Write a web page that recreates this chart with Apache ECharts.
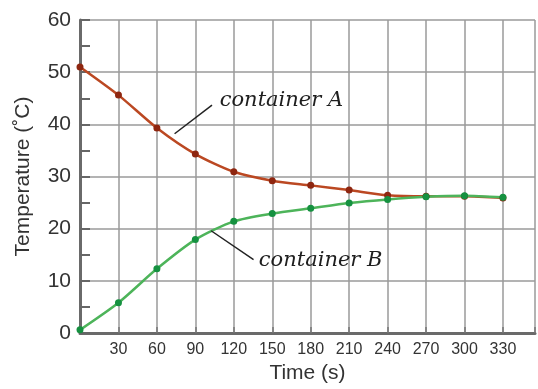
<!DOCTYPE html>
<html>
<head>
<meta charset="utf-8">
<script src="https://cdn.jsdelivr.net/npm/echarts@6/dist/echarts.min.js"></script>
<style>
  html, body { margin: 0; padding: 0; background: #fff; }
  #chart { width: 538px; height: 389px; }
</style>
</head>
<body>
<div id="chart"></div>
<script>
// time in seconds
var times = [0, 30, 60, 90, 120, 150, 180, 210, 240, 270, 300, 330]
// temperatures (°C)
var containerA = [51.0, 45.6, 39.3, 34.3, 30.9, 29.2, 28.3, 27.4, 26.4, 26.2, 26.2, 25.9]
var containerB = [0.6, 5.8, 12.3, 17.9, 21.4, 22.9, 23.9, 24.9, 25.6, 26.1, 26.3, 26.0]
var xTicks = [30, 60, 90, 120, 150, 180, 210, 240, 270, 300, 330]

// leader lines and labels, in data units
var leaderA = [[73.8, 38.2], [103, 43.7]]
var labelA = [109, 44.6]
var leaderB = [[102.3, 19.6], [135.4, 14.05]]
var labelB = [139.5, 13.9]

function pairs(xs, ys) {
    return xs.map(function(x, i) { return [x, ys[i]] })
}

var leaderStyle = { color: '#222', width: 1.5, type: 'solid' }
var noteLabel = {
    show: true,
    position: 'right',
    distance: 0,
    fontFamily: 'DejaVu Serif',
    fontStyle: 'italic',
    fontSize: 21,
    color: '#1e1e1e'
}

var chart = echarts.init(document.getElementById('chart'))
var options = {
    animation: false,
    grid: { left: 80, right: -3, top: 20, bottom: 53 },
    xAxis: {
        type: 'value',
        min: 0,
        max: 355,
        interval: 30,
        name: 'Time (s)',
        nameLocation: 'middle',
        nameGap: 30,
        nameTextStyle: { fontFamily: 'Liberation Sans', fontSize: 21, color: '#333' },
        axisLine: { lineStyle: { color: '#6a6a6a', width: 3 } },
        axisTick: { show: true, inside: true, length: 6, lineStyle: { color: '#777', width: 1.5 } },
        axisLabel: {
            fontFamily: 'Liberation Sans',
            fontSize: 16,
            color: '#333',
            margin: 9,
            formatter: function(v) { return xTicks.indexOf(v) >= 0 ? String(v) : '' }
        },
        splitLine: { show: true, lineStyle: { color: '#9a9a9a', width: 1.5 } }
    },
    yAxis: {
        type: 'value',
        min: 0,
        max: 60,
        interval: 10,
        name: 'Temperature (˚C)',
        nameLocation: 'middle',
        nameGap: 46,
        nameTextStyle: { fontFamily: 'Liberation Sans', fontSize: 21, color: '#333' },
        axisLine: { show: true, lineStyle: { color: '#6a6a6a', width: 3 } },
        axisTick: { show: true, inside: true, length: 10, lineStyle: { color: '#666', width: 2 } },
        minorTick: { show: true, splitNumber: 2, length: 10, lineStyle: { color: '#666', width: 2 } },
        axisLabel: { fontFamily: 'Liberation Sans', fontSize: 21, color: '#333', margin: 9 },
        splitLine: { show: true, lineStyle: { color: '#9a9a9a', width: 1.5 } }
    },
    series: [
        {
            name: 'container A',
            type: 'line',
            data: pairs(times, containerA),
            smooth: 0.25,
            symbol: 'circle',
            symbolSize: 7,
            lineStyle: { color: '#bb4822', width: 2.5 },
            itemStyle: { color: '#8e2610' },
            markLine: {
                silent: true,
                symbol: 'none',
                label: { show: false },
                lineStyle: leaderStyle,
                data: [[{ coord: leaderA[0] }, { coord: leaderA[1] }]]
            },
            markPoint: {
                symbol: 'circle',
                symbolSize: 0,
                label: Object.assign({ formatter: 'container A' }, noteLabel),
                data: [{ coord: labelA }]
            }
        },
        {
            name: 'container B',
            type: 'line',
            data: pairs(times, containerB),
            smooth: 0.25,
            symbol: 'circle',
            symbolSize: 7,
            lineStyle: { color: '#4db45a', width: 2.5 },
            itemStyle: { color: '#159140' },
            markLine: {
                silent: true,
                symbol: 'none',
                label: { show: false },
                lineStyle: leaderStyle,
                data: [[{ coord: leaderB[0] }, { coord: leaderB[1] }]]
            },
            markPoint: {
                symbol: 'circle',
                symbolSize: 0,
                label: Object.assign({ formatter: 'container B' }, noteLabel),
                data: [{ coord: labelB }]
            }
        }
    ]
}
chart.setOption(options)
</script>
</body>
</html>
